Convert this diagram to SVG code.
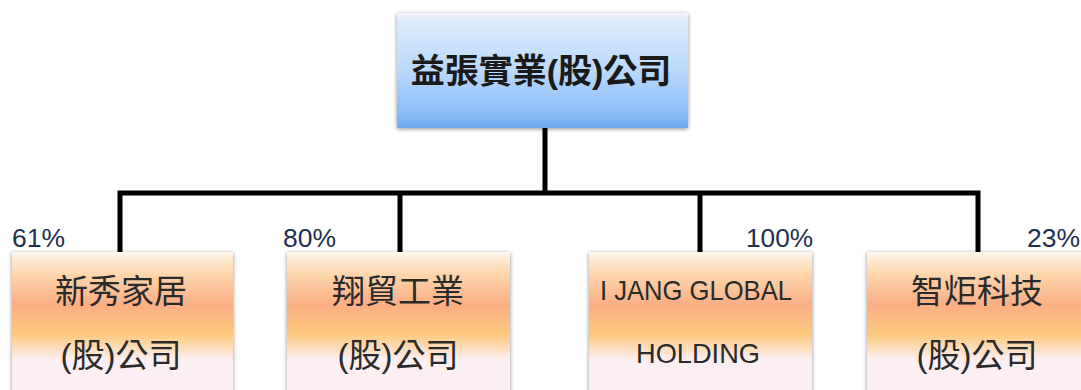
<svg xmlns="http://www.w3.org/2000/svg" width="1081" height="390" viewBox="0 0 1081 390">
<defs>
<linearGradient id="gBlue" x1="0" y1="0" x2="0" y2="1">
<stop offset="0" stop-color="#F6F6FE"/>
<stop offset="0.06" stop-color="#DDEBFC"/>
<stop offset="0.5" stop-color="#BAD9FB"/>
<stop offset="0.9" stop-color="#86BBF6"/>
<stop offset="1" stop-color="#6FA6EE"/>
</linearGradient>
<linearGradient id="gOrange" x1="0" y1="0" x2="0" y2="1">
<stop offset="0" stop-color="#FFF6F0"/>
<stop offset="0.05" stop-color="#FEE9D2"/>
<stop offset="0.15" stop-color="#FDD6AC"/>
<stop offset="0.35" stop-color="#FBAE85"/>
<stop offset="0.55" stop-color="#FDC97E"/>
<stop offset="0.72" stop-color="#FCEFF2"/>
<stop offset="1" stop-color="#FBEFF5"/>
</linearGradient>
<filter id="sh" x="-10%" y="-10%" width="120%" height="130%">
<feGaussianBlur in="SourceAlpha" stdDeviation="2"/>
<feOffset dx="0" dy="1" result="b"/>
<feComponentTransfer><feFuncA type="linear" slope="0.45"/></feComponentTransfer>
<feMerge><feMergeNode/><feMergeNode in="SourceGraphic"/></feMerge>
</filter>
</defs>
<style>
.top{fill:url(#gBlue);filter:url(#sh)}
.child{fill:url(#gOrange);filter:url(#sh)}
.tt{font-family:"Liberation Sans","Noto Sans CJK TC",sans-serif;font-size:34px;font-weight:bold;fill:#1a1a1a;text-anchor:middle}
.ct{font-family:"Liberation Sans","Noto Sans CJK TC",sans-serif;font-size:33px;fill:#2a2a2a;text-anchor:middle}
.et{font-family:"Liberation Sans","Noto Sans CJK TC",sans-serif;font-size:28px;fill:#2a2a2a;text-anchor:middle}
.pct{font-family:"Liberation Sans","Noto Sans CJK TC",sans-serif;font-size:26px;fill:#1F2F4F}
.ln{stroke:#000;stroke-width:5;fill:none;stroke-linecap:square}
</style>
<g id="connectors">
<path class="ln" d="M545,130 V193 M120,193 H978 M120,193 V250 M400,193 V250 M700,193 V250 M978,193 V250"/>
</g>
<g id="n0">
<rect class="top" x="397" y="13" width="291" height="115"/>
<text class="tt" x="541" y="83">益張實業(股)公司</text>
</g>
<g id="n1">
<rect class="child" x="12" y="252" width="221" height="150"/>
<text class="ct" x="121" y="303">新秀家居</text>
<text class="ct" x="121" y="367">(股)公司</text>
<text class="pct" x="12" y="247" textLength="53" lengthAdjust="spacingAndGlyphs">61%</text>
</g>
<g id="n2">
<rect class="child" x="287" y="252" width="223" height="150"/>
<text class="ct" x="398" y="303">翔貿工業</text>
<text class="ct" x="398" y="367">(股)公司</text>
<text class="pct" x="283" y="247" textLength="53" lengthAdjust="spacingAndGlyphs">80%</text>
</g>
<g id="n3">
<rect class="child" x="589" y="252" width="223" height="150"/>
<text class="et" x="696" y="300" textLength="192" lengthAdjust="spacingAndGlyphs">I JANG GLOBAL</text>
<text class="et" x="698" y="363" textLength="124" lengthAdjust="spacingAndGlyphs">HOLDING</text>
<text class="pct" x="813" y="247" text-anchor="end" textLength="67" lengthAdjust="spacingAndGlyphs">100%</text>
</g>
<g id="n4">
<rect class="child" x="867" y="252" width="222" height="150"/>
<text class="ct" x="977" y="303">智炬科技</text>
<text class="ct" x="977" y="367">(股)公司</text>
<text class="pct" x="1080" y="247" text-anchor="end" textLength="53" lengthAdjust="spacingAndGlyphs">23%</text>
</g>
</svg>
